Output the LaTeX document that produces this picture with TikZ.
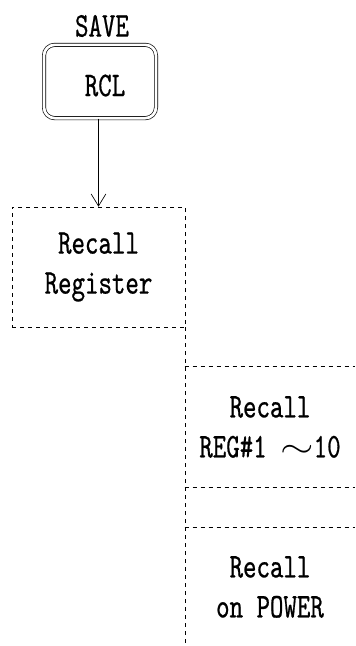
\documentclass[tikz,border=0pt]{standalone}
\usepackage{fontspec}
\usepackage{graphicx}
\newfontfamily\keyfont{lmmono10-regular.otf}[FakeStretch=0.74, FakeBold=0.6]
\usetikzlibrary{arrows.meta}

\begin{document}
\begin{tikzpicture}[x=0.75pt, y=-0.75pt, line width=0.5pt,
    font=\keyfont\fontsize{26}{30}\selectfont,
    keybox/.style={draw, double, double distance=2pt, rounded corners=8pt,
        minimum width=84pt, minimum height=55pt},
    menubox/.style={draw, dash pattern=on 3pt off 3pt, align=center,
        minimum width=129.75pt, minimum height=90pt},
    cell/.style={align=center, minimum width=127.5pt},
    dashline/.style={dash pattern=on 3pt off 3pt}]
    \useasboundingbox (0,0) rectangle (355,646);
    % Key
    \node[keybox] (rcl) at (100,81.5) {\hspace*{7.5pt}\raisebox{-3pt}[\height][\depth]{RCL}};
    \node (save) at (102,26) {SAVE};
    % Menu
    \node[menubox] (reg) at (98.5,267) {Recall\\Register};
    \draw[-{Straight Barb[length=9pt, width=11pt]}] (reg.north |- rcl.south) -- (reg.north);
    % Sub menu
    \node[cell, minimum height=90pt] (regnum) at (270,427) {Recall\\REG\#1 \scalebox{1.3}[1]{$\sim$}10};
    \node[cell, minimum height=88.5pt] (power) at (270,587) {Recall\\on POWER};
    \coordinate (bottom) at (reg.south east |- 0,646);
    \draw[dashline] (reg.south east) -- (bottom);
    \draw[dashline] (regnum.north west) -- (regnum.north east);
    \draw[dashline] (regnum.south west) -- (regnum.south east);
    \draw[dashline] (power.north west) -- (power.north east);
\end{tikzpicture}
\end{document}
